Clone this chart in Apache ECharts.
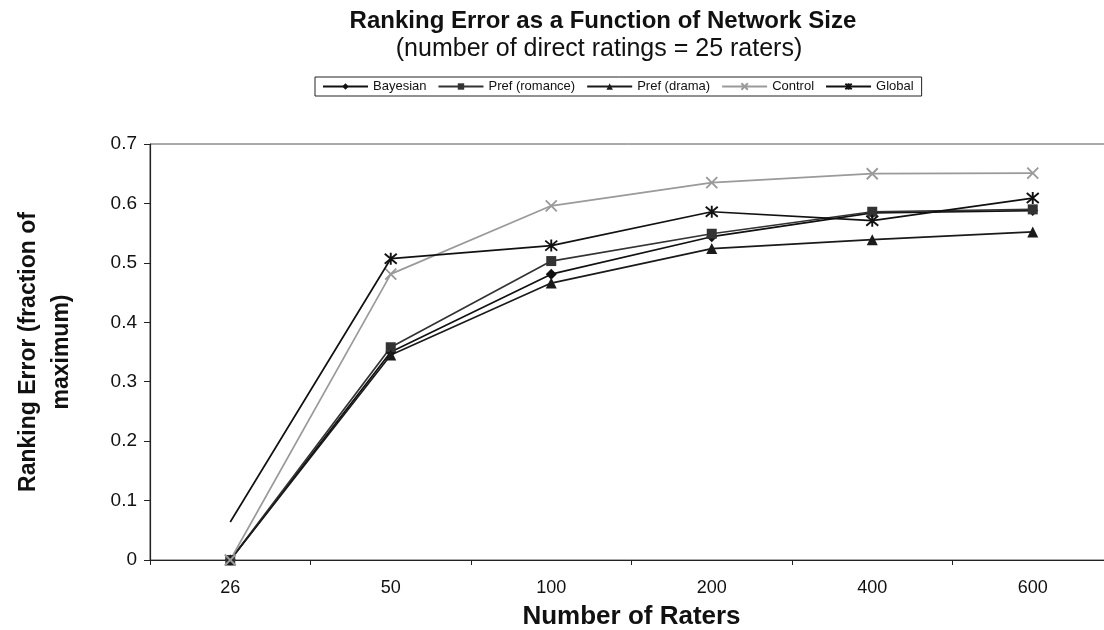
<!DOCTYPE html>
<html>
<head>
<meta charset="utf-8">
<script src="https://cdn.jsdelivr.net/npm/echarts@6/dist/echarts.min.js"></script>
<style>
  html, body { margin: 0; padding: 0; background: #fff; }
  #chart { width: 1104px; height: 630px; }
</style>
</head>
<body>
<div id="chart"></div>
<script>
// Network sizes (number of raters) along the x axis
const raters = ['26', '50', '100', '200', '400', '600'];

// Ranking error (fraction of maximum) for each method
const bayesian = [0, 0.350, 0.481, 0.544, 0.584, 0.588];
const prefRomance = [0, 0.358, 0.503, 0.549, 0.586, 0.590];
const prefDrama = [0, 0.345, 0.466, 0.524, 0.539, 0.552];
const control = [0, 0.481, 0.596, 0.635, 0.650, 0.651];
const globalErr = [0.064, 0.507, 0.529, 0.586, 0.571, 0.609];

const yTicks = { min: 0, max: 0.7, step: 0.1 };

const FONT = 'Liberation Sans, Arial, Helvetica, sans-serif';
const crossPath = 'path://M0,0L10,10M0,10L10,0';
const starPath = 'path://M0,0L10,10M0,10L10,0M5,-1L5,11';

function lineSeries(name, data, color, symbol, size, stroke) {
  return {
    name: name,
    type: 'line',
    data: data,
    symbol: symbol,
    symbolSize: size,
    showSymbol: true,
    lineStyle: { color: color, width: 1.7 },
    itemStyle: stroke
      ? { color: 'transparent', borderColor: color, borderWidth: 1.9 }
      : { color: color, borderColor: color, borderWidth: 0 },
    emphasis: { disabled: true },
    z: 3
  };
}

// The global method's first point carries no marker
const globalData = globalErr.map((v, i) => i === 0 ? { value: v, symbol: 'none' } : v);

const chart = echarts.init(document.getElementById('chart'), null, { renderer: 'canvas' });
chart.setOption({
  animation: false,
  backgroundColor: '#fff',
  textStyle: { fontFamily: FONT },
  title: [
    {
      text: 'Ranking Error as a Function of Network Size',
      left: 598,
      textAlign: 'center',
      top: 4,
      textStyle: { fontFamily: FONT, fontSize: 24, fontWeight: 'bold', color: '#111' }
    },
    {
      text: '(number of direct ratings = 25 raters)',
      left: 594,
      textAlign: 'center',
      top: 32,
      textStyle: { fontFamily: FONT, fontSize: 25, fontWeight: 'normal', color: '#111' }
    }
  ],
  legend: {
    top: 77,
    left: 315,
    orient: 'horizontal',
    borderColor: '#222',
    borderWidth: 1,
    padding: [3, 8, 3, 7],
    itemGap: 11,
    itemWidth: 45,
    itemHeight: 8,
    textStyle: { fontFamily: FONT, fontSize: 13, color: '#111' },
    data: ['Bayesian', 'Pref (romance)', 'Pref (drama)', 'Control', 'Global']
  },
  grid: {
    left: 150,
    top: 144,
    right: -9,
    bottom: 70,
    containLabel: false,
    outerBoundsMode: 'none',
    show: true,
    borderColor: '#555',
    borderWidth: 1
  },
  xAxis: {
    type: 'category',
    data: raters,
    boundaryGap: true,
    name: 'Number of Raters',
    nameLocation: 'middle',
    nameGap: 44,
    nameTextStyle: { fontFamily: FONT, fontSize: 26, fontWeight: 'bold', color: '#111' },
    axisLine: { lineStyle: { color: '#222', width: 1.2 } },
    axisTick: { show: true, length: 5, inside: false, lineStyle: { color: '#222' } },
    axisLabel: { fontFamily: FONT, fontSize: 18, color: '#111', margin: 19 },
    splitLine: { show: false }
  },
  yAxis: {
    type: 'value',
    min: yTicks.min,
    max: yTicks.max,
    interval: yTicks.step,
    name: 'Ranking Error (fraction of\nmaximum)',
    nameLocation: 'middle',
    nameGap: 72,
    nameRotate: 90,
    nameTextStyle: { fontFamily: FONT, fontSize: 23, fontWeight: 'bold', color: '#111', lineHeight: 33, align: 'center' },
    axisLine: { show: true, lineStyle: { color: '#222', width: 1.2 } },
    axisTick: { show: true, length: 6, inside: false, lineStyle: { color: '#222' } },
    axisLabel: {
      fontFamily: FONT, fontSize: 19, color: '#111', margin: 13,
      formatter: v => (v === 0 ? '0' : v.toFixed(1))
    },
    splitLine: { show: false }
  },
  series: [
    lineSeries('Bayesian', bayesian, '#111', 'diamond', 11, false),
    lineSeries('Pref (romance)', prefRomance, '#333', 'rect', 10, false),
    lineSeries('Pref (drama)', prefDrama, '#1a1a1a', 'triangle', 11, false),
    lineSeries('Control', control, '#9a9a9a', crossPath, 11, true),
    Object.assign(lineSeries('Global', globalData, '#111', starPath, 12, true), { z: 4 })
  ]
});
</script>
</body>
</html>
